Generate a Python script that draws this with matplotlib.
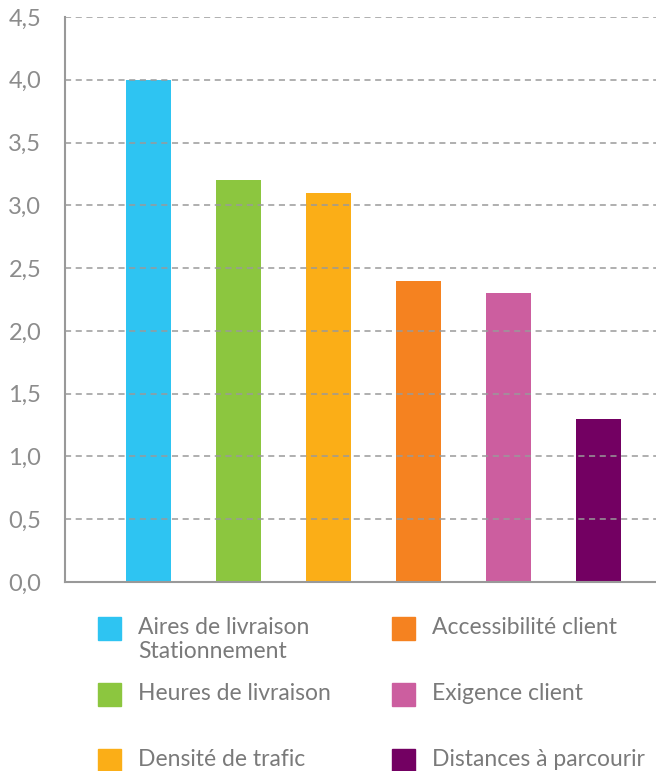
import matplotlib.pyplot as plt
from matplotlib.patches import Rectangle
from matplotlib.ticker import FuncFormatter

labels = ["Aires de livraison\nStationnement", "Heures de livraison", "Densité de trafic",
          "Accessibilité client", "Exigence client", "Distances à parcourir"]
values = [4.0, 3.2, 3.1, 2.4, 2.3, 1.3]
colors = ["#2EC4F2", "#8CC63F", "#FBAE17", "#F58220", "#CC5E9F", "#730062"]

plt.rcParams['font.family'] = ['Lato', 'DejaVu Sans']
grey = "#8c8c8c"

fig = plt.figure(figsize=(6.56, 7.71), dpi=100)
ax = fig.add_axes([65 / 656, 1 - 582 / 771, 1 - 65 / 656, (582 - 17) / 771])

x = list(range(len(values)))
ax.bar(x, values, width=0.5, color=colors, zorder=1)

ax.set_ylim(0, 4.5)
ax.set_xlim(-0.93, 5.64)
ax.set_yticks([i * 0.5 for i in range(10)])
ax.yaxis.set_major_formatter(FuncFormatter(lambda v, p: f"{v:.1f}".replace(".", ",")))
ax.set_xticks([])
ax.tick_params(axis='y', length=0, pad=17, labelsize=17, labelcolor=grey)

ax.grid(axis='y', color="#9a9a9a", linestyle=(0, (4, 3)), linewidth=1.1, zorder=3)
ax.set_axisbelow(False)
for s in ['top', 'right']:
    ax.spines[s].set_visible(False)
for s in ['left', 'bottom']:
    ax.spines[s].set_color("#999999")
    ax.spines[s].set_linewidth(1.5)
    ax.spines[s].set_zorder(4)

# legend laid out in two columns, three rows
col_x = [98, 392]
row_y = [617, 683, 749]
order = [(0, 0), (0, 1), (0, 2), (1, 0), (1, 1), (1, 2)]
for (c, r), lab, col in zip(order, labels, colors):
    px, py = col_x[c], row_y[r]
    fig.patches.append(Rectangle((px / 656, 1 - (py + 23) / 771), 23 / 656, 23 / 771,
                                 transform=fig.transFigure, color=col))
    fig.text((px + 40) / 656, 1 - py / 771, lab, ha='left', va='top',
             fontsize=16.5, color="#7a7a7a", linespacing=1.2)

fig.savefig("out.png", dpi=100)
